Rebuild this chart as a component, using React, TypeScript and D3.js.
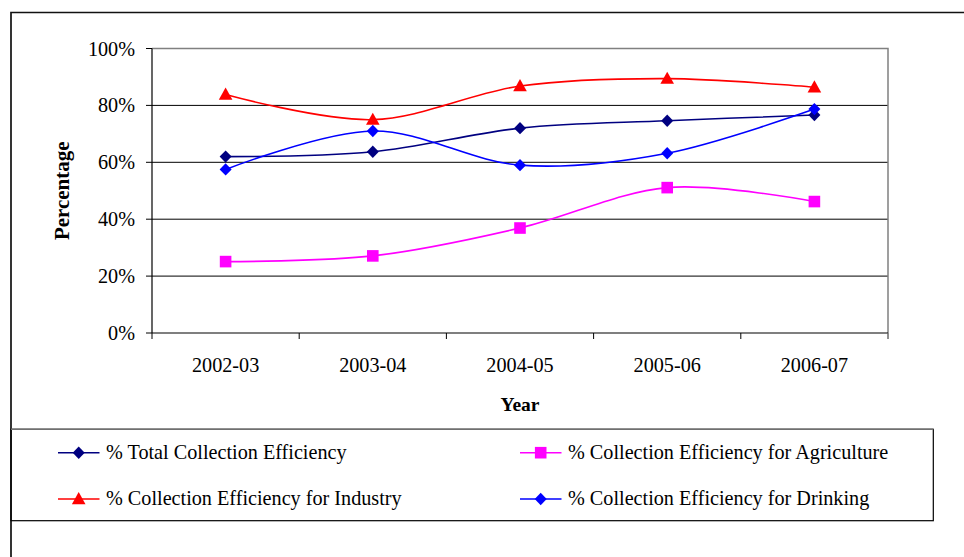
import React from "react";
import * as d3 from "d3";

// Collection efficiency by year, as fractions
const years = ["2002-03", "2003-04", "2004-05", "2005-06", "2006-07"];
const totalEff = [0.62, 0.637, 0.72, 0.746, 0.766];
const agricultureEff = [0.251, 0.271, 0.369, 0.511, 0.462];
const industryEff = [0.838, 0.75, 0.868, 0.894, 0.864];
const drinkingEff = [0.575, 0.71, 0.59, 0.632, 0.787];
const yTicks = [0, 0.2, 0.4, 0.6, 0.8, 1];

type Shape = "diamond" | "square" | "triangle";

const series: { name: string; values: number[]; color: string; shape: Shape }[] = [
  { name: "% Total Collection Efficiency", values: totalEff, color: "#000080", shape: "diamond" },
  { name: "% Collection Efficiency for Agriculture", values: agricultureEff, color: "#FF00FF", shape: "square" },
  { name: "% Collection Efficiency for Industry", values: industryEff, color: "#FF0000", shape: "triangle" },
  { name: "% Collection Efficiency for Drinking", values: drinkingEff, color: "#0000FF", shape: "diamond" },
];

const W = 964;
const H = 557;
const plot = { left: 152, right: 888, top: 48.5, bottom: 333 };
const FONT = "'Liberation Serif', 'Times New Roman', serif";
const FS = 20.2;

function markerPath(shape: Shape): string {
  if (shape === "diamond") return "M0,-6.2L6,0L0,6.2L-6,0Z";
  if (shape === "square") return "M-5.8,-5.8H5.8V5.8H-5.8Z";
  return "M0,-7L6.8,5.2H-6.8Z";
}

export default function App() {
  const x = d3.scaleBand<string>().domain(years).range([plot.left, plot.right]).padding(0);
  const y = d3.scaleLinear().domain([0, 1]).range([plot.bottom, plot.top]);
  const cx = (c: string) => (x(c) ?? 0) + x.bandwidth() / 2;
  const pct = d3.format(".0%");

  const line = d3
    .line<number>()
    .x((_, i) => cx(years[i]))
    .y((v) => y(v))
    .curve(d3.curveCardinal.tension(0));

  const boundaries = [...years.map((c) => x(c) ?? 0), plot.right];

  // legend layout: two columns, two rows
  const legendCols = [58, 520];
  const legendRows = [452.7, 499];
  const legendOrder = [
    [0, 0, 0],
    [1, 1, 0],
    [2, 0, 1],
    [3, 1, 1],
  ];

  return (
    <svg
      width={W}
      height={H}
      style={{ position: "absolute", left: 0, top: 0, background: "#fff" }}
      fontFamily={FONT}
    >
      <rect x={0} y={0} width={W} height={H} fill="#fff" />
      {/* outer frame */}
      <path d={`M11,${H + 2}V12.5H${W + 2}`} fill="none" stroke="#111" strokeWidth={1.7} />

      {/* gridlines */}
      {yTicks
        .filter((t) => t > 0 && t < 1)
        .map((t) => (
          <line key={t} x1={plot.left} x2={plot.right} y1={y(t)} y2={y(t)} stroke="#000" strokeWidth={1} />
        ))}
      {/* plot border (top, right) */}
      <path
        d={`M${plot.left},${y(1)}H${plot.right}V${plot.bottom + 6}`}
        fill="none"
        stroke="#808080"
        strokeWidth={1.5}
      />
      {/* y axis */}
      <line x1={plot.left} x2={plot.left} y1={y(1)} y2={plot.bottom} stroke="#000" strokeWidth={1.2} />
      {yTicks.map((t) => (
        <g key={t}>
          <line x1={plot.left - 6} x2={plot.left} y1={y(t)} y2={y(t)} stroke="#000" strokeWidth={1} />
          <text x={135} y={y(t) + 7} textAnchor="end" fontSize={FS} fill="#000">
            {pct(t)}
          </text>
        </g>
      ))}
      {/* x axis */}
      <line x1={plot.left} x2={plot.right} y1={plot.bottom} y2={plot.bottom} stroke="#000" strokeWidth={1.2} />
      {boundaries.map((b, i) => (
        <line
          key={i}
          x1={b}
          x2={b}
          y1={plot.bottom}
          y2={plot.bottom + 6}
          stroke={i === boundaries.length - 1 ? "#808080" : "#000"}
          strokeWidth={1}
        />
      ))}
      {years.map((c) => (
        <text key={c} x={cx(c)} y={371.5} textAnchor="middle" fontSize={FS} fill="#000">
          {c}
        </text>
      ))}

      {/* axis titles */}
      <text x={520} y={411} textAnchor="middle" fontSize={19.5} fontWeight="bold" fill="#000">
        Year
      </text>
      <text
        transform={`translate(68.5,${(plot.top + plot.bottom) / 2}) rotate(-90)`}
        textAnchor="middle"
        fontSize={21}
        fontWeight="bold"
        fill="#000"
      >
        Percentage
      </text>

      {/* series */}
      {series.map((s) => (
        <g key={s.name}>
          <path d={line(s.values) ?? ""} fill="none" stroke={s.color} strokeWidth={1.6} />
          {s.values.map((v, i) => (
            <path
              key={i}
              d={markerPath(s.shape)}
              transform={`translate(${cx(years[i])},${y(v)})`}
              fill={s.color}
            />
          ))}
        </g>
      ))}

      {/* legend */}
      <rect x={11} y={429.3} width={922.3} height={91.4} fill="none" stroke="#000" strokeWidth={1.2} />
      <line x1={11} x2={933.3} y1={429.3} y2={429.3} stroke="#707070" strokeWidth={1.5} />
      {legendOrder.map(([si, col, row]) => {
        const s = series[si];
        const lx = legendCols[col];
        const ly = legendRows[row];
        return (
          <g key={s.name}>
            <line x1={lx} x2={lx + 41.5} y1={ly} y2={ly} stroke={s.color} strokeWidth={1.6} />
            <path d={markerPath(s.shape)} transform={`translate(${lx + 20.7},${ly})`} fill={s.color} />
            <text x={lx + 48} y={ly + 6.3} fontSize={FS} fill="#000">
              {s.name}
            </text>
          </g>
        );
      })}
    </svg>
  );
}
